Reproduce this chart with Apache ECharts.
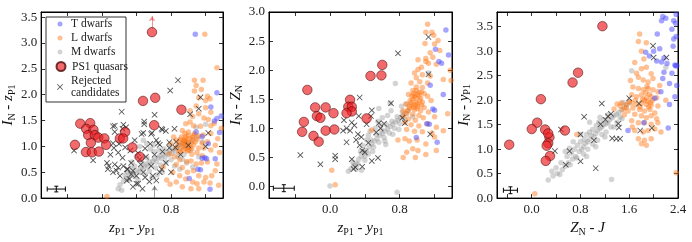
<!DOCTYPE html>
<html><head><meta charset="utf-8">
<script src="https://cdn.jsdelivr.net/npm/echarts@6/dist/echarts.min.js"></script>
<style>html,body{margin:0;padding:0;background:#fff}#c{width:692px;height:242px}</style>
</head><body><div id="c"></div>
<script>
// ---------------- Panel 1 : I_N - z_P1  vs  z_P1 - y_P1 ----------------
const p1T = [[1.08,3.17],[1.33,2.04],[1.38,1.59],[1.33,1.54],[1.30,1.49],[1.26,1.76],[1.16,1.19],[1.09,1.28],[1.19,0.78],[1.16,0.77],[1.21,0.76],[1.11,0.56],[1.14,0.55],[1.31,0.76],[1.01,0.38],[1.25,0.17],[1.23,1.05],[1.36,1.27]];
const p1L = [[1.19,3.17],[1.33,2.52],[1.17,2.28],[1.07,2.28],[1.09,2.18],[1.15,2.10],[1.07,2.07],[1.22,1.97],[1.12,1.94],[1.20,1.89],[1.25,1.92],[1.09,1.78],[1.20,1.75],[1.02,1.69],[1.26,1.66],[1.12,1.63],[1.05,1.58],[1.18,1.55],[1.23,1.52],[0.97,1.44],[1.02,1.47],[1.06,1.40],[1.14,1.39],[1.26,1.40],[1.30,1.45],
 [0.93,1.31],[1.00,1.28],[1.07,1.25],[1.17,1.22],[1.26,1.25],[0.97,1.19],[1.04,1.13],[1.10,1.14],[1.16,1.06],[1.22,1.09],[0.90,1.09],[0.95,1.03],[1.00,1.00],[1.06,1.03],[1.12,0.97],[1.18,0.97],[1.26,0.93],[1.31,1.02],[0.86,0.97],[0.91,0.91],[0.99,0.91],[1.04,0.85],[1.10,0.88],[1.16,0.82],[0.84,0.80],[0.90,0.74],[0.98,0.71],[1.03,0.72],[1.09,0.66],[1.15,0.68],[1.22,0.70],[1.31,0.53],[0.86,0.65],[0.93,0.59],[0.99,0.50],[1.06,0.53],[1.12,0.43],[1.20,0.40],[1.27,0.43],[0.90,0.43],[0.97,0.37],[0.86,0.31],[1.05,0.31],[1.10,0.28],[1.18,0.31],[1.25,0.29],[1.03,0.18],[1.12,0.18],[0.93,0.22],[0.79,0.27],[0.82,0.50],
 [0.95,1.12],[0.98,1.08],[1.01,1.15],[0.94,1.00],[0.97,0.96],[1.03,1.06],[1.00,1.21],[0.92,1.18],[0.96,1.25],[1.02,0.98],[1.05,1.18],[0.99,1.05],[0.93,1.06],[0.96,1.10],[1.08,1.09],[0.88,1.02],[0.91,1.14],[1.00,0.93],[1.04,0.95],[0.97,1.15],[0.94,0.93],[1.06,1.21],[0.89,0.88],[1.12,1.20],[0.86,1.12],
 [0.06,0.03],[0.71,0.60],[0.75,0.35],[0.78,0.86],[0.80,1.05],[0.83,1.18],[1.34,1.15],[1.36,0.88],[1.38,1.35],[1.33,0.66],[1.35,0.25]];
const p1M = [[0.19,0.18],[0.23,0.15],[0.21,0.26],[0.25,0.32],[0.28,0.38],[0.31,0.35],[0.33,0.44],[0.36,0.48],[0.38,0.42],[0.40,0.53],[0.43,0.50],[0.45,0.58],[0.47,0.55],[0.49,0.62],[0.51,0.66],[0.53,0.60],[0.55,0.70],[0.57,0.65],[0.59,0.72],[0.61,0.76],[0.63,0.70],[0.65,0.78],[0.67,0.82],[0.69,0.76],[0.71,0.85],[0.73,0.80],[0.75,0.88],[0.77,0.84],[0.79,0.92],[0.81,0.87],[0.83,0.95],[0.85,0.90],[0.87,0.98],[0.89,1.02],[0.91,0.96],[0.93,1.05],[0.95,1.10],[0.97,1.01],[1.00,1.08],[1.05,1.12],[1.10,1.18],[1.16,1.09],[1.20,1.43],[1.09,1.37],[0.48,1.12],[0.52,1.05],[0.44,1.00],[0.56,0.95],[0.60,0.90],[0.66,0.93],[0.38,0.62],[0.34,0.58],[0.30,0.50],[0.27,0.45],[0.42,0.35],[0.50,0.45],[0.55,0.52],[0.62,0.58],[0.68,0.64],[0.74,0.70],[0.80,0.74],[0.88,0.80],[0.90,0.56],[0.84,0.62],[0.70,0.50],[0.64,0.45],[0.58,0.40],[0.46,0.70],[0.52,0.78],[0.40,0.80],[0.35,0.70],[0.72,0.95],[0.78,1.02],[0.95,0.85],[1.02,0.92],[1.12,0.80],[1.05,0.60],[0.98,0.68],[0.93,0.75],[0.60,1.02]];
const p1Q = [[0.58,3.21],[0.476,1.88],[0.617,1.94],[0.92,1.71],[0.605,1.41],[-0.248,1.44],[-0.134,1.45],[-0.18,1.34],[-0.096,1.32],[-0.157,1.22],[-0.08,1.22],[-0.04,1.17],[0.03,1.155],[-0.31,1.03],[-0.126,1.07],[0.05,1.03],[-0.183,0.89],[-0.114,0.885],[-0.034,0.90],[0.209,1.154],[0.27,1.28],[0.247,1.154],[0.354,0.98],[0.438,0.80]];
const p1X = [[0.88,2.28],[0.79,2.08],[1.14,1.95],[1.12,1.73],[0.23,1.67],[0.61,1.61],[1.02,1.62],[0.49,1.48],[0.70,1.32],[0.13,1.39],[0.28,1.37],[0.25,1.42],[0.15,1.40],[0.24,1.34],[0.49,1.43],[0.48,1.26],[0.58,1.26],[0.69,1.34],[0.74,1.30],[0.84,1.34],[1.23,1.26],[0.15,1.28],[0.46,1.24],[0.57,1.24],[0.13,1.06],[0.63,1.12],[0.67,1.03],[0.86,1.09],[0.78,0.97],[0.70,0.90],[0.61,0.84],[0.51,0.80],[0.44,0.75],[0.34,0.68],[-0.32,0.92],[-0.10,0.73],[0.06,0.68],[0.08,0.62],[0.19,0.59],[0.29,0.56],[0.36,0.53],[0.48,0.50],[0.13,0.50],[0.21,0.43],[0.32,0.37],[0.42,0.28],[0.55,0.32],[0.67,0.50],[0.07,0.56],[0.15,0.65],[0.17,0.53],[0.25,0.62],[0.30,0.56],[0.34,0.46],[0.40,0.43],[0.29,0.34],[0.40,0.28],[0.50,0.40],[0.59,0.43],[0.69,0.56],[0.74,0.68],[0.63,0.34],[0.20,1.05],[0.14,0.97],[0.19,0.88],[0.27,0.98],[0.33,0.92],[0.42,0.87],[0.50,0.96],[0.56,1.05],[0.65,1.06],[0.78,1.08],[0.85,0.98],[0.91,0.84],[0.38,1.12],[0.10,0.84],[0.24,0.78],[0.45,0.65],[0.57,0.62],[0.80,0.50],[0.36,0.22],[0.47,0.18],[1.00,1.02],[1.20,1.00]];
const p1Err = [[-0.525,0.175,0.105,0.055]];
const p1ArrowRed = [[0.58,3.27],[0.58,3.52]];
const p1ArrowBlack = [[0.61,0.0],[0.61,0.24]];
const p1XTicks = [-0.4,0,0.4,0.8,1.2], p1XLabels = [0,0.8];
const p1YTicks = [0,0.5,1,1.5,2,2.5,3,3.5];

// ---------------- Panel 2 : I_N - Z_N  vs  z_P1 - y_P1 ----------------
const p2T = [[1.33,2.69],[1.21,2.36],[1.36,2.26],[1.28,2.12],[1.25,2.15],[1.30,1.58],[1.15,1.74],[1.18,1.33],[1.20,1.31],[1.11,1.08],[1.14,1.07],[1.23,0.76],[0.99,0.84]];
const p2L = [[1.12,2.79],[1.17,2.65],[1.10,2.65],[1.19,2.60],[1.24,2.51],[1.09,2.46],[1.20,2.45],[1.26,2.34],[1.15,2.30],[1.01,2.18],[1.10,2.20],[1.18,2.22],[1.13,2.12],[1.22,2.10],[1.05,2.05],[1.01,2.01],[1.10,2.15],[0.97,1.95],[1.06,1.92],[1.15,1.90],[0.99,1.87],[1.30,1.84],[1.39,1.82],[0.93,1.78],[1.03,1.80],[1.12,1.78],[0.99,1.71],[1.06,1.70],[0.95,1.65],[1.02,1.62],[1.08,1.60],[0.90,1.58],[0.97,1.55],[1.04,1.52],[1.12,1.55],[0.92,1.48],[0.99,1.45],[1.06,1.45],[1.16,1.48],[0.87,1.42],[0.94,1.40],[1.01,1.38],[1.08,1.36],[0.91,1.34],[0.97,1.32],[1.04,1.30],[1.13,1.28],[0.84,1.30],[0.88,1.25],[0.95,1.24],[1.02,1.22],[0.84,1.21],[0.90,1.16],[0.98,1.14],[1.07,1.18],[1.20,1.20],[0.86,1.10],[0.93,1.06],[1.02,1.04],[1.12,1.08],[1.22,1.02],[0.88,0.98],[0.97,0.95],[1.06,0.94],[1.17,0.92],[1.30,0.96],[0.86,0.82],[0.91,0.78],[1.00,0.80],[1.10,0.73],[1.20,0.85],[0.78,0.80],[0.88,0.59],[0.95,0.65],[1.01,0.62],[1.10,0.55],[1.22,0.62],[0.98,0.50],[0.84,0.50],[0.02,0.28],[0.06,0.03],[0.48,0.97],[0.96,1.60],[0.98,1.52],[0.95,1.50],[1.00,1.58],[0.93,1.44],[1.00,1.42],[0.96,1.36],[1.03,1.48],[0.94,1.56],[0.99,1.65],[1.02,1.56],[0.97,1.40],[0.91,1.38],[1.05,1.40],[0.89,1.30],[1.00,1.34],[1.05,1.62],[1.35,1.25],[1.38,2.00]];
const p2M = [[0.21,0.26],[0.24,0.30],[0.27,0.36],[0.30,0.40],[0.33,0.47],[0.36,0.52],[0.39,0.58],[0.42,0.62],[0.45,0.68],[0.48,0.73],[0.51,0.78],[0.54,0.82],[0.57,0.88],[0.60,0.91],[0.63,0.95],[0.66,0.99],[0.69,1.03],[0.72,1.07],[0.75,1.11],[0.78,1.14],[0.81,1.18],[0.84,1.22],[0.87,1.26],[0.90,1.30],[0.26,0.42],[0.32,0.38],[0.35,0.60],[0.40,0.52],[0.44,0.56],[0.47,0.80],[0.50,0.68],[0.53,0.90],[0.56,0.76],[0.59,0.97],[0.62,0.84],[0.65,1.06],[0.68,0.92],[0.71,1.12],[0.74,1.00],[0.77,1.20],[0.80,1.08],[0.83,1.28],[0.86,1.15],[0.44,0.88],[0.52,1.00],[0.58,1.05],[0.38,0.70],[0.60,1.18],[0.66,1.22],[0.56,1.34],[0.75,1.77],[0.69,1.43],[0.95,1.20],[1.13,1.95],[0.00,0.01],[0.77,-0.10],[0.30,0.30],[0.40,0.45],[0.49,0.60],[0.63,0.78],[0.72,0.90],[0.46,0.95],[0.36,0.28],[0.70,1.30],[0.82,1.38],[0.88,1.42],[0.55,1.12],[0.64,0.72],[0.79,0.98],[0.42,0.80]];
const p2Q = [[-0.26,1.66],[-0.17,1.36],[-0.05,1.36],[-0.15,1.21],[-0.11,1.18],[0.04,1.26],[-0.30,1.11],[-0.32,0.94],[-0.19,0.87],[-0.13,0.77],[-0.05,0.96],[0.05,0.98],[0.23,1.49],[0.21,1.37],[0.25,1.37],[0.25,1.29],[0.19,1.26],[0.42,1.17],[0.465,1.90],[0.59,1.91],[0.60,2.09]];
const p2X = [[0.78,2.29],[1.13,2.57],[1.13,1.93],[0.34,1.53],[0.70,1.43],[0.48,1.31],[0.47,1.21],[0.56,1.09],[0.33,1.21],[0.25,1.10],[0.16,1.14],[0.86,1.09],[0.83,1.18],[1.15,0.90],[0.15,0.96],[0.23,0.96],[0.32,0.90],[0.36,0.85],[0.19,0.76],[0.34,0.71],[0.37,0.62],[0.40,0.59],[0.53,0.93],[0.25,0.47],[0.06,0.53],[0.06,0.47],[-0.11,0.38],[-0.34,0.54],[0.29,0.33],[0.37,0.34],[0.48,0.44],[0.55,0.49],[0.42,1.07],[0.28,1.05],[0.19,1.00],[0.58,1.00],[0.62,1.08],[0.27,0.30],[0.44,0.75],[0.30,0.80]];
const p2Err = [[-0.53,-0.03,0.12,0.06]];
const p2XTicks = [-0.4,0,0.4,0.8,1.2], p2XLabels = [0,0.8];
const p2YTicks = [0,0.5,1,1.5,2,2.5,3];

// ---------------- Panel 3 : I_N - y_P1  vs  Z_N - J ----------------
const p3T = [[2.15,3.71],[2.20,3.67],[2.13,3.62],[2.37,3.75],[2.33,3.62],[2.36,3.57],[2.06,3.35],[2.33,3.25],[2.37,3.30],[2.32,3.10],[2.00,3.00],[1.87,2.98],[2.13,2.78],[2.17,2.86],[2.36,2.70],[2.38,2.70],[2.35,2.72],[2.17,2.57],[2.15,2.44],[2.26,2.34],[2.12,2.17],[2.02,2.04],[2.35,2.07],[2.26,1.91],[1.84,1.54],[1.58,1.38],[2.24,1.43],[2.30,2.55],[2.05,2.80],[2.22,2.75],[1.93,2.90],[2.30,3.45],[2.38,2.30],[2.10,3.05]];
const p3L = [[1.77,3.35],[1.75,3.20],[1.88,3.17],[1.80,3.00],[1.84,2.84],[1.69,2.77],[1.80,2.64],[1.88,2.67],[1.96,2.54],[1.75,2.47],[1.83,2.41],[1.91,2.37],[1.99,2.44],[1.66,2.27],[1.75,2.24],[1.83,2.21],[1.91,2.24],[1.99,2.21],[2.07,2.17],[1.64,2.11],[1.72,2.07],[1.80,2.11],[1.88,2.05],[1.96,2.07],[2.05,2.05],[1.47,1.94],[1.55,1.91],[1.64,1.94],[1.72,1.91],[1.80,1.94],[1.88,1.91],[1.96,1.90],[2.07,1.88],[1.50,1.81],[1.58,1.78],[1.66,1.84],[1.77,1.81],[1.85,1.78],[1.94,1.81],[2.02,1.74],[1.69,1.71],[1.80,1.68],[1.88,1.64],[1.96,1.68],[1.64,1.58],[1.75,1.54],[1.85,1.54],[1.96,1.51],[2.07,1.54],[1.69,1.38],[1.83,1.35],[1.91,1.38],[2.02,1.41],[1.75,1.21],[1.85,1.18],[1.96,1.21],[1.80,1.11],[1.88,1.08],
 [1.85,2.00],[1.90,1.98],[1.93,2.12],[1.87,2.15],[1.95,1.95],[1.82,2.02],[1.78,1.86],[1.92,1.86],[1.98,2.00],[1.89,2.28],[1.70,2.00],[1.60,1.98],[1.55,1.85],[1.45,1.88],[1.40,1.92],
 [0.74,1.30],[0.05,0.09],[2.37,0.52],[1.52,1.70],[1.35,1.82],[1.62,2.40],[1.72,2.55],[2.10,2.30],[2.05,1.62],[2.12,1.35],[2.20,2.00],[1.65,1.45]];
const p3M = [[0.27,0.37],[0.35,0.45],[0.42,0.50],[0.46,0.48],[0.50,0.58],[0.55,0.65],[0.60,0.72],[0.63,0.68],[0.67,0.80],[0.72,0.85],[0.74,0.82],[0.78,0.95],[0.82,1.00],[0.85,1.05],[0.88,1.12],[0.92,1.15],[0.95,1.20],[0.98,1.28],[1.02,1.25],[1.05,1.32],[1.08,1.38],[1.12,1.42],[1.15,1.45],[1.18,1.50],[1.22,1.52],[1.25,1.54],[1.28,1.60],[1.32,1.64],[1.35,1.68],[1.39,1.71],[1.43,1.75],[1.47,1.80],[1.52,1.85],[1.56,1.90],[1.60,1.95],[0.70,1.00],[0.75,1.08],[0.80,1.15],[0.86,1.20],[0.90,1.30],[0.95,1.35],[1.00,1.40],[1.06,1.48],[1.10,1.55],[1.18,1.60],[1.25,1.70],[0.65,0.92],[0.58,0.85],[0.85,0.90],[0.92,1.00],[1.00,1.10],[1.08,1.18],[1.15,1.30],[1.22,1.35],[1.30,1.45],[1.64,2.60],[1.31,0.38],[0.48,0.72],[0.62,1.02],[0.80,1.30],[1.40,1.55],[1.48,1.62],[2.20,2.67],
 [0.55,0.95],[0.68,1.15],[0.95,1.55],[1.05,1.05],[1.20,1.25],[0.90,0.85],[1.35,1.45],[0.40,0.62],[1.50,1.95],[1.45,1.65],[0.33,0.55],[1.12,1.65]];
const p3Q = [[1.16,3.51],[0.76,2.56],[0.67,2.36],[0.15,2.02],[0.09,1.54],[0.00,1.41],[0.22,1.40],[0.545,1.38],[0.29,1.24],[0.27,1.12],[0.245,1.07],[0.27,1.32],[0.30,0.86],[0.23,0.76],[-0.37,1.09]];
const p3X = [[1.99,3.11],[2.21,2.87],[2.00,2.87],[1.15,1.93],[0.86,1.66],[1.30,1.72],[1.13,1.51],[1.42,1.52],[1.43,1.44],[1.39,1.21],[1.45,1.21],[1.32,1.22],[1.02,1.18],[0.80,1.30],[0.48,1.40],[0.38,0.96],[0.62,0.96],[0.80,0.75],[0.56,0.68],[1.05,0.61],[1.76,1.93],[1.60,2.04],[1.78,1.38],[1.97,1.43],[1.25,1.67],[1.21,1.60]];
const p3Err = [[-0.35,0.16,0.115,0.07]];
const p3XTicks = [-0.4,0,0.4,0.8,1.2,1.6,2.0,2.4], p3XLabels = [0,0.8,1.6,2.4];
const p3YTicks = [0,0.5,1,1.5,2,2.5,3,3.5];

// ---------------- build ----------------
const FONT = "'Liberation Serif', 'DejaVu Serif', serif";
const CROSS = 'path://M0,1L1,0L5,4L9,0L10,1L6,5L10,9L9,10L5,6L1,10L0,9L4,5Z';
const panels = [
  {grid:{left:40, top:12, width:183, height:192}, x:[-0.7,1.4], y:[0,3.6], xt:p1XTicks, xl:p1XLabels, yt:p1YTicks,
   T:p1T, L:p1L, M:p1M, Q:p1Q, X:p1X, E:p1Err,
   xName:'{i|z}{s|P1}{n| - }{i|y}{s|P1}', yName:'{i|I}{s|N}{n| - }{i|z}{s|P1}', yGap:24},
  {grid:{left:269, top:12, width:183, height:192}, x:[-0.7,1.4], y:[-0.2,3.0], xt:p2XTicks, xl:p2XLabels, yt:p2YTicks,
   T:p2T, L:p2L, M:p2M, Q:p2Q, X:p2X, E:p2Err,
   xName:'{i|z}{s|P1}{n| - }{i|y}{s|P1}', yName:'{i|I}{s|N}{n| - }{i|Z}{s|N}', yGap:22},
  {grid:{left:497, top:12, width:181, height:192}, x:[-0.57,2.4], y:[0,3.8], xt:p3XTicks, xl:p3XLabels, yt:p3YTicks,
   T:p3T, L:p3L, M:p3M, Q:p3Q, X:p3X, E:p3Err,
   xName:'{i|Z}{s|N}{n| - }{i|J}', yName:'{i|I}{s|N}{n| - }{i|y}{s|P1}', yGap:23}
];
const rich = {
  i:{fontFamily:FONT, fontStyle:'italic', fontSize:15, color:'#111'},
  n:{fontFamily:FONT, fontSize:15, color:'#111'},
  s:{fontFamily:FONT, fontSize:10, color:'#111', padding:[7,0,0,0]}
};
const grid=[], xAxis=[], yAxis=[], series=[];
const tickStyle = {show:true, inside:true, length:4, lineStyle:{color:'#000', width:0.8}};
const lineStyle = {show:true, onZero:false, lineStyle:{color:'#000', width:1}};
const lab = {fontFamily:FONT, fontSize:13, color:'#222', formatter:v=>Number(v).toFixed(1)};
function errRender(params, api){
  const cx=api.value(0), cy=api.value(1), ex=api.value(2), ey=api.value(3);
  const l=api.coord([cx-ex,cy]), r=api.coord([cx+ex,cy]), t=api.coord([cx,cy+ey]), b=api.coord([cx,cy-ey]);
  const st={stroke:'#000', lineWidth:1};
  const L=(x1,y1,x2,y2)=>({type:'line', shape:{x1,y1,x2,y2}, style:st});
  return {type:'group', children:[
    L(l[0],l[1],r[0],r[1]), L(t[0],t[1],b[0],b[1]),
    L(l[0],l[1]-2.5,l[0],l[1]+2.5), L(r[0],r[1]-2.5,r[0],r[1]+2.5),
    L(t[0]-2,t[1],t[0]+2,t[1]), L(b[0]-2,b[1],b[0]+2,b[1])
  ]};
}
panels.forEach((p,gi)=>{
  grid.push(Object.assign({show:true, borderColor:'#000', borderWidth:1, containLabel:false}, p.grid));
  xAxis.push({gridIndex:gi, type:'value', min:p.x[0], max:p.x[1], position:'bottom', axisLine:lineStyle, splitLine:{show:false},
    axisTick:Object.assign({customValues:p.xt}, tickStyle), axisLabel:Object.assign({customValues:p.xl, margin:5}, lab),
    name:p.xName, nameLocation:'middle', nameGap:16, nameTextStyle:{rich}});
  xAxis.push({gridIndex:gi, type:'value', min:p.x[0], max:p.x[1], position:'top', axisLine:lineStyle, splitLine:{show:false},
    axisTick:Object.assign({customValues:p.xt}, tickStyle), axisLabel:{show:false}});
  yAxis.push({gridIndex:gi, type:'value', min:p.y[0], max:p.y[1], position:'left', axisLine:lineStyle, splitLine:{show:false},
    axisTick:Object.assign({customValues:p.yt}, tickStyle), axisLabel:Object.assign({customValues:p.yt, margin:4}, lab),
    name:p.yName, nameLocation:'middle', nameGap:p.yGap, nameRotate:90, nameTextStyle:{rich}});
  yAxis.push({gridIndex:gi, type:'value', min:p.y[0], max:p.y[1], position:'right', axisLine:lineStyle, splitLine:{show:false},
    axisTick:Object.assign({customValues:p.yt}, tickStyle), axisLabel:{show:false}});
  const ax = {xAxisIndex:gi*2, yAxisIndex:gi*2};
  series.push(Object.assign({type:'scatter', name:'M dwarfs', data:p.M, symbolSize:5.5, z:2,
    itemStyle:{color:'#999999', opacity:0.42}}, ax));
  series.push(Object.assign({type:'scatter', name:'L dwarfs', data:p.L, symbolSize:5.5, z:2,
    itemStyle:{color:'#ff7410', opacity:0.45}}, ax));
  series.push(Object.assign({type:'scatter', name:'T dwarfs', data:p.T, symbolSize:5.5, z:2,
    itemStyle:{color:'#4a4aff', opacity:0.5}}, ax));
  series.push(Object.assign({type:'scatter', name:'Rejected candidates', data:p.X, symbol:CROSS, symbolSize:6, z:3,
    itemStyle:{color:'#333', opacity:0.85}}, ax));
  series.push(Object.assign({type:'scatter', name:'PS1 quasars', data:p.Q, symbolSize:9.5, z:4,
    itemStyle:{color:'rgba(236,28,32,0.82)', borderColor:'#4a0a0a', borderWidth:0.7}}, ax));
  series.push(Object.assign({type:'custom', name:'err', data:p.E, renderItem:errRender, z:5, silent:true}, ax));
});
series.push({type:'lines', coordinateSystem:'cartesian2d', xAxisIndex:0, yAxisIndex:0, z:5,
  data:[{coords:p1ArrowRed, lineStyle:{color:'#e8262b', width:1}}, {coords:p1ArrowBlack, lineStyle:{color:'#333', width:1}}],
  symbol:['none','arrow'], symbolSize:5});

const legSpec = [
  {name:'T dwarfs', s:5, c:24},
  {name:'L dwarfs', s:5, c:38},
  {name:'M dwarfs', s:5, c:52},
  {name:'PS1 quasars', s:9, c:66.5},
  {name:'Rejected candidates', s:6, c:87}
];
const legend = legSpec.map(l=>{
  const lines = l.name==='Rejected candidates'?2:1;
  const h = 12*lines;
  return {data:[l.name], orient:'vertical', left:60-l.s/2, top:l.c-h/2, padding:0, itemWidth:l.s, itemHeight:l.s,
    selectedMode:false, z:6,
    formatter:n=>n==='Rejected candidates'?'Rejected\ncandidates':n,
    textStyle:{fontFamily:FONT, fontSize:11.5, lineHeight:12, color:'#222', padding:[0,0,0,6-l.s/2]}};
});

const chart = echarts.init(document.getElementById('c'), null, {renderer:'canvas'});
chart.setOption({
  animation:false, backgroundColor:'#fff',
  grid, xAxis, yAxis, series, legend,
  graphic:[{type:'rect', shape:{x:46, y:17, width:80, height:85}, style:{fill:'#fff', stroke:'#333', lineWidth:1}, z:5}]
});
</script></body></html>
